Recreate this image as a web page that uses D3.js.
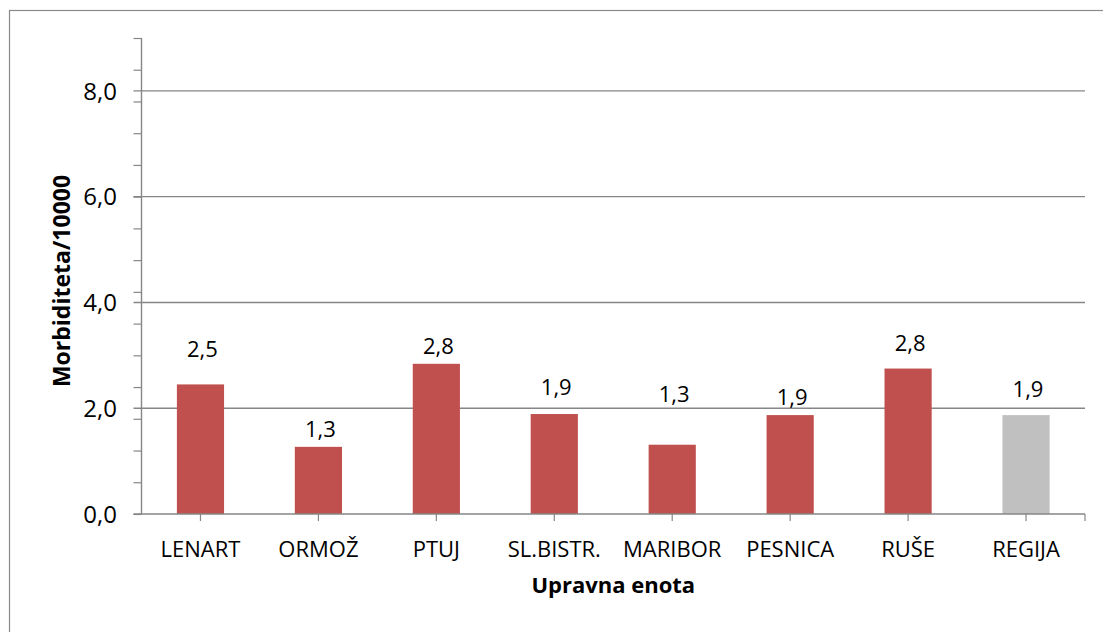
<!DOCTYPE html>
<html>
<head>
<meta charset="utf-8">
<script src="https://cdn.jsdelivr.net/npm/d3@7"></script>
<style>
  html, body { margin: 0; padding: 0; background: #fff; }
  svg { display: block; }
  text { font-family: "Open Sans", "Noto Sans", sans-serif; fill: #000; }
</style>
</head>
<body>
<svg id="chart" width="1103" height="632"></svg>
<script>
// ---- data ----
const categories = ["LENART", "ORMOŽ", "PTUJ", "SL.BISTR.", "MARIBOR", "PESNICA", "RUŠE", "REGIJA"];
const values = [2.45, 1.27, 2.84, 1.89, 1.31, 1.87, 2.75, 1.87];
const yTickLabels = ["0,0", "2,0", "4,0", "6,0", "8,0"];
const yTickValues = [0, 2, 4, 6, 8];
const yAxisTitle = "Morbiditeta/10000";
const xAxisTitle = "Upravna enota";

// ---- layout / style (not data) ----
const plot = { left: 141.5, right: 1085, top: 38, bottom: 514 };
const labelGap = [27, 10, 10, 19, 43, 10, 18, 18]; // manual label placement as in source
const barColor = "#C0504D";
const regionColor = "#C0C0C0";
const axisColor = "#868686";

const svg = d3.select("#chart");

// outer chart border (extends past the visible picture on right/bottom)
svg.append("rect")
  .attr("x", 9.5).attr("y", 10.5)
  .attr("width", 1110).attr("height", 640)
  .attr("fill", "none").attr("stroke", "#8a8a8a").attr("stroke-width", 1.2);

const y = d3.scaleLinear().domain([0, 9]).range([plot.bottom, plot.top]);
const x = d3.scaleBand().domain(categories).range([plot.left, plot.right])
  .paddingInner(0.6).paddingOuter(0.3);

// gridlines
svg.append("g").selectAll("line").data(yTickValues.filter(v => v > 0)).join("line")
  .attr("x1", plot.left - 8).attr("x2", plot.right)
  .attr("y1", d => y(d)).attr("y2", d => y(d))
  .attr("stroke", axisColor).attr("stroke-width", 1.4);

// y axis with minor tick marks every 0.6
const minorTicks = d3.range(0, 9.0001, 0.6);
const yAxis = d3.axisLeft(y).tickValues(minorTicks).tickSize(8).tickFormat("");
const gy = svg.append("g").attr("transform", `translate(${plot.left},0)`).call(yAxis);
gy.select(".domain").attr("stroke", axisColor).attr("stroke-width", 1.4)
  .attr("d", `M0,${plot.top}V${plot.bottom}`);
gy.selectAll(".tick line").attr("stroke", axisColor).attr("stroke-width", 1.2);

// y tick labels
svg.append("g").selectAll("text").data(yTickValues).join("text")
  .attr("x", 117).attr("y", d => y(d))
  .attr("dy", "0.36em")
  .attr("text-anchor", "end")
  .style("font-size", "24px")
  .text((d, i) => yTickLabels[i]);

// bars
svg.append("g").selectAll("rect").data(values).join("rect")
  .attr("x", (d, i) => x(categories[i]))
  .attr("width", x.bandwidth())
  .attr("y", d => y(d))
  .attr("height", d => y(0) - y(d))
  .attr("fill", (d, i) => categories[i] === "REGIJA" ? regionColor : barColor);

// x axis line + ticks at category centres and right end
svg.append("line")
  .attr("x1", plot.left - 8).attr("x2", plot.right)
  .attr("y1", plot.bottom).attr("y2", plot.bottom)
  .attr("stroke", axisColor).attr("stroke-width", 1.4);
const xTickPos = categories.map(c => x(c) + x.bandwidth() / 2).concat([plot.right]);
svg.append("g").selectAll("line").data(xTickPos).join("line")
  .attr("x1", d => d).attr("x2", d => d)
  .attr("y1", plot.bottom).attr("y2", plot.bottom + 7)
  .attr("stroke", axisColor).attr("stroke-width", 1.2);

// category labels
svg.append("g").selectAll("text").data(categories).join("text")
  .attr("x", d => x(d) + x.bandwidth() / 2)
  .attr("y", 557)
  .attr("text-anchor", "middle")
  .style("font-size", "22px")
  .text(d => d);

// value labels
const fmt = d3.format(".1f");
svg.append("g").selectAll("text").data(values).join("text")
  .attr("x", (d, i) => x(categories[i]) + x.bandwidth() / 2 + 2)
  .attr("y", (d, i) => y(d) - labelGap[i])
  .attr("text-anchor", "middle")
  .style("font-size", "22px")
  .text(d => fmt(d).replace(".", ","));

// axis titles
svg.append("text")
  .attr("x", (plot.left + plot.right) / 2).attr("y", 593)
  .attr("text-anchor", "middle")
  .style("font-size", "22px").style("font-weight", "bold")
  .text(xAxisTitle);

svg.append("text")
  .attr("transform", `translate(70,${(plot.top + plot.bottom) / 2 + 5}) rotate(-90)`)
  .attr("text-anchor", "middle")
  .style("font-size", "23px").style("font-weight", "bold")
  .text(yAxisTitle);
</script>
</body>
</html>
